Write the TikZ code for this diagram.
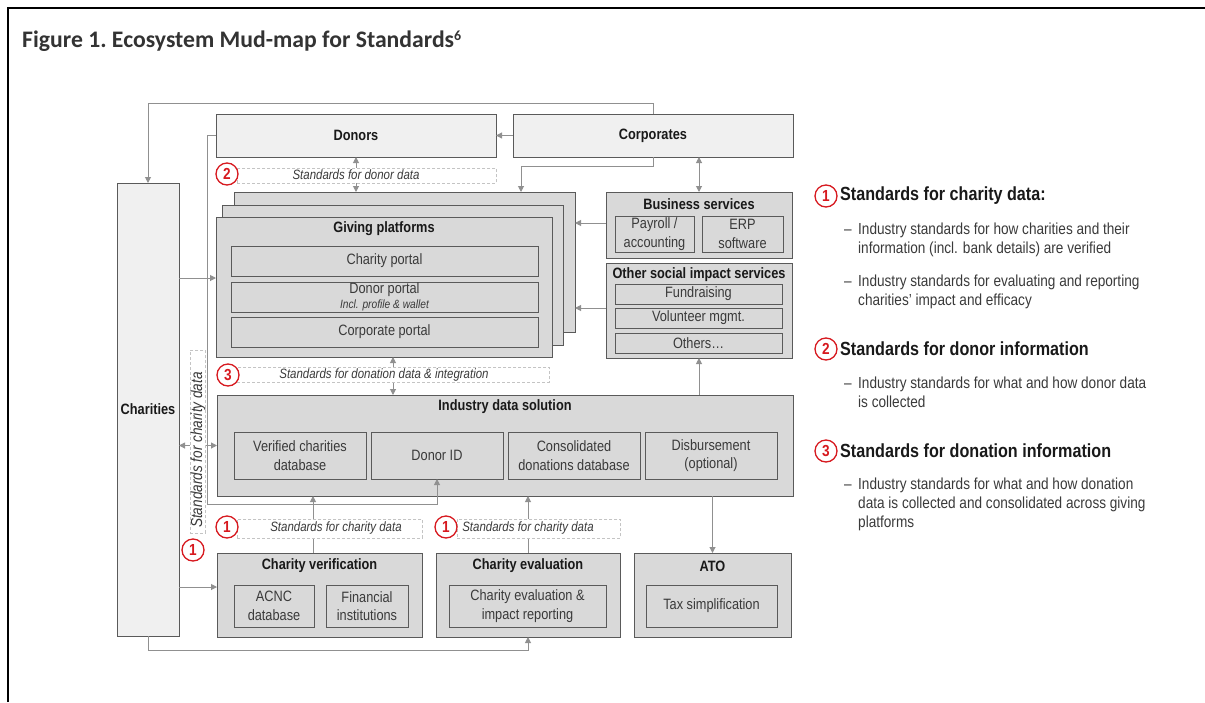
\documentclass[tikz,border=0pt]{standalone}
\usepackage{fontspec}
\setmainfont{Liberation Sans}[FakeStretch=0.85]
\newfontfamily\capfont{Carlito}
\usetikzlibrary{arrows.meta}

\definecolor{boxlight}{HTML}{F0F0F0}
\definecolor{boxdark}{HTML}{D9D9D9}
\definecolor{edgegrey}{HTML}{5A5A5A}
\definecolor{wiregrey}{HTML}{909090}
\definecolor{dashgrey}{HTML}{C4C4C4}
\definecolor{stdred}{HTML}{D7191F}
\definecolor{inkgrey}{HTML}{3A3A3A}

\tikzset{
  base/.style={anchor=north west, inner sep=0pt, outer sep=0pt, draw=edgegrey,
    line width=0.9pt, align=center, text=inkgrey, font=\fontsize{15}{18.5}\selectfont},
  lightbox/.style={base, fill=boxlight, text=black!90, font=\fontsize{15}{18}\selectfont\bfseries},
  darkbox/.style={base, fill=boxdark},
  heading/.style={inner sep=0pt, text=black!90, font=\fontsize{15}{18}\selectfont\bfseries},
  stdbox/.style={anchor=north west, draw=dashgrey, dash pattern=on 3pt off 2pt,
    fill=white, inner sep=0pt, line width=0.7pt},
  stdtext/.style={inner sep=0pt, text=inkgrey, font=\fontsize{13.5}{16}\selectfont\itshape},
  num/.style={circle, draw=stdred, line width=1.3pt, fill=white, text=stdred,
    minimum size=22pt, inner sep=0pt, font=\fontsize{16}{16}\selectfont\bfseries},
  wire/.style={draw=wiregrey, line width=1pt, -{Triangle[length=6pt,width=6pt]}},
  wire2/.style={wire, {Triangle[length=6pt,width=6pt]}-{Triangle[length=6pt,width=6pt]}},
  keyhead/.style={anchor=west, inner sep=0pt, text=black!90, font=\fontsize{19}{22}\selectfont\bfseries},
  keytext/.style={anchor=north west, inner sep=0pt, align=left, text=inkgrey, font=\fontsize{16}{19}\selectfont},
  keydash/.style={anchor=base west, inner sep=0pt, text=inkgrey, font=\fontsize{16}{19}\selectfont},
}

\begin{document}
\begin{tikzpicture}[x=1pt,y=-1pt]
  \useasboundingbox (0,0) rectangle (1205,702);
  \draw[line width=2pt] (8,702) -- (8,8) -- (1205,8);
  \node[anchor=base west, inner sep=0pt, text=black!80, font=\capfont\fontsize{23.7}{27}\selectfont\bfseries]
    (figtitle) at (22,47) {Figure 1.\ Ecosystem Mud-map for Standards\raisebox{7pt}{\fontsize{14}{14}\selectfont 6}};

  % top row and charities
  \node[lightbox, minimum width=280pt, minimum height=43pt] (donors) at (216,114) {Donors};
  \node[lightbox, minimum width=280pt, minimum height=43pt] (corporates) at (513,114) {Corporates};
  \node[lightbox, minimum width=62pt, minimum height=453pt] (charities) at (117,183) {Charities};

  % giving platforms, three stacked sheets
  \foreach \i/\x/\y/\w in {1/234/192/341, 2/222/205/341, 3/216/217/336}
    \node[darkbox, minimum width=\w pt, minimum height=140pt] (give\i) at (\x,\y) {};
  \node[heading] (givetitle) at (384,229) {Giving platforms};
  \node[darkbox, minimum width=307pt, minimum height=30pt] (charityportal) at (231,246) {Charity portal};
  \node[darkbox, minimum width=307pt, minimum height=30pt, font=\fontsize{15}{15}\selectfont] (donorportal) at (231,282)
    {Donor portal\\{\fontsize{12}{12}\selectfont\itshape Incl. profile \& wallet}};
  \node[darkbox, minimum width=307pt, minimum height=30pt] (corpportal) at (231,317) {Corporate portal};

  % services on the right
  \node[darkbox, minimum width=186pt, minimum height=66pt] (business) at (606,192) {};
  \node[heading] (bustitle) at (699,204) {Business services};
  \node[darkbox, minimum width=79pt, minimum height=36pt] (payroll) at (615,216) {Payroll /\\accounting};
  \node[darkbox, minimum width=81pt, minimum height=36pt] (erp) at (702,216) {ERP\\software};
  \node[darkbox, minimum width=186pt, minimum height=95pt] (other) at (606,263) {};
  \node[heading] (othertitle) at (699,275) {Other social impact services};
  \foreach \n/\y/\t in {fundraising/284/Fundraising, volunteer/308/Volunteer mgmt., others/333/Others…}
    \node[darkbox, minimum width=167pt, minimum height=20pt] (\n) at (615,\y) {\t};

  % industry data solution
  \node[darkbox, minimum width=576pt, minimum height=101pt] (industry) at (217,395) {};
  \node[heading] (indtitle) at (505,407) {Industry data solution};
  \foreach \n/\x/\t in {verified/234/{Verified charities\\database}, donorid/371/{Donor ID},
      consolidated/508/{Consolidated\\donations database}, disbursement/645/{Disbursement\\(optional)}}
    \node[darkbox, minimum width=132pt, minimum height=47pt] (\n) at (\x,432) {\t};

  % bottom row
  \node[darkbox, minimum width=205pt, minimum height=84pt] (verif) at (217,553) {};
  \node[heading] (veriftitle) at (319.5,566) {Charity verification};
  \node[darkbox, minimum width=80pt, minimum height=42pt] (acnc) at (234,585) {ACNC\\database};
  \node[darkbox, minimum width=82pt, minimum height=42pt] (financial) at (326,585) {Financial\\institutions};
  \node[darkbox, minimum width=184pt, minimum height=84pt] (eval) at (436,553) {};
  \node[heading] (evaltitle) at (528,566) {Charity evaluation};
  \node[darkbox, minimum width=157pt, minimum height=42pt] (evalreport) at (449,585) {Charity evaluation \&\\impact reporting};
  \node[darkbox, minimum width=157pt, minimum height=84pt] (ato) at (634,553) {};
  \node[heading] (atotitle) at (712.5,566) {ATO};
  \node[darkbox, minimum width=131pt, minimum height=42pt] (tax) at (646,585) {Tax simplification};

  % connectors
  \draw[wire] (corporates.north) -- ++(0,-11) -| (charities.north);
  \draw[wire] (corporates.west) -- (donors.east);
  \draw[wire] (corporates.south) -- ++(0,9) -| ([xshift=-54pt]give1.north east);
  \draw[wire2] (business.north) -- (business.north |- corporates.south);
  \draw[wire2] (donors.south) -- (donors.south |- give1.north);
  \draw[wire] (donors.west) -| (207,504) -| (donorid.south);
  \draw[wire] (business.west |- 0,223) -- (give1.east |- 0,223);
  \draw[wire] (other.west |- 0,308) -- (give1.east |- 0,308);
  \draw[wire] (charities.east |- 0,278) -- (give3.west |- 0,278);
  \draw[wire2] (charities.east |- industry.west) -- (industry.west);
  \draw[wire] (charities.east |- 0,587) -- (verif.west |- 0,587);
  \draw[wire] (charities.south) -- ++(0,14) -| (eval.south);
  \draw[wire2] (give3.south -| 393,0) -- (industry.north -| 393,0);
  \draw[wire] (industry.north -| other.south) -- (other.south);
  \draw[wire] (industry.south -| ato.north) -- (ato.north);
  \draw[wire] (verif.north -| 313,0) -- (industry.south -| 313,0);
  \draw[wire] (eval.north) -- (industry.south -| eval.north);

  % standards bands
  \node[stdbox, minimum width=259pt, minimum height=15pt] (stddonor) at (237,168) {};
  \node[stdtext] at (356,175) {Standards for donor data};
  \node[num] (n2) at (227,174) {2};
  \node[stdbox, minimum width=312pt, minimum height=15pt] (stddonation) at (237,367) {};
  \node[stdtext] at (384,375) {Standards for donation data \& integration};
  \node[num] (n3) at (228,375) {3};
  \node[stdbox, minimum width=185pt, minimum height=19pt] (stdverif) at (237,519) {};
  \node[stdtext] at (336,528) {Standards for charity data};
  \node[num] (n1a) at (227,527) {1};
  \node[stdbox, minimum width=163pt, minimum height=19pt] (stdeval) at (457,519) {};
  \node[stdtext] at (528,528) {Standards for charity data};
  \node[num] (n1b) at (446,527) {1};
  \node[stdbox, minimum width=15pt, minimum height=183pt] (stdcharity) at (190,350) {};
  \node[stdtext, rotate=90, font=\fontsize{16}{18}\selectfont\itshape] at (198,450) {Standards for charity data};
  \node[num] (n1c) at (193,550) {1};

  % key
  \node[num] (key1) at (826,196) {1};
  \node[keyhead] (key1h) at (840,196) {Standards for charity data:};
  \node[keydash] at (844,234.5) {–};
  \node[keytext] (key1a) at (858,223) {Industry standards for how charities and their\\information (incl. bank details) are verified};
  \node[keydash] at (844,286.5) {–};
  \node[keytext] (key1b) at (858,275) {Industry standards for evaluating and reporting\\charities’ impact and efficacy};
  \node[num] (key2) at (826,349) {2};
  \node[keyhead] (key2h) at (840,349) {Standards for donor information};
  \node[keydash] at (844,388.5) {–};
  \node[keytext] (key2a) at (858,377) {Industry standards for what and how donor data\\is collected};
  \node[num] (key3) at (826,451) {3};
  \node[keyhead] (key3h) at (840,451) {Standards for donation information};
  \node[keydash] at (844,489.5) {–};
  \node[keytext] (key3a) at (858,478) {Industry standards for what and how donation\\data is collected and consolidated across giving\\platforms};
\end{tikzpicture}
\end{document}
